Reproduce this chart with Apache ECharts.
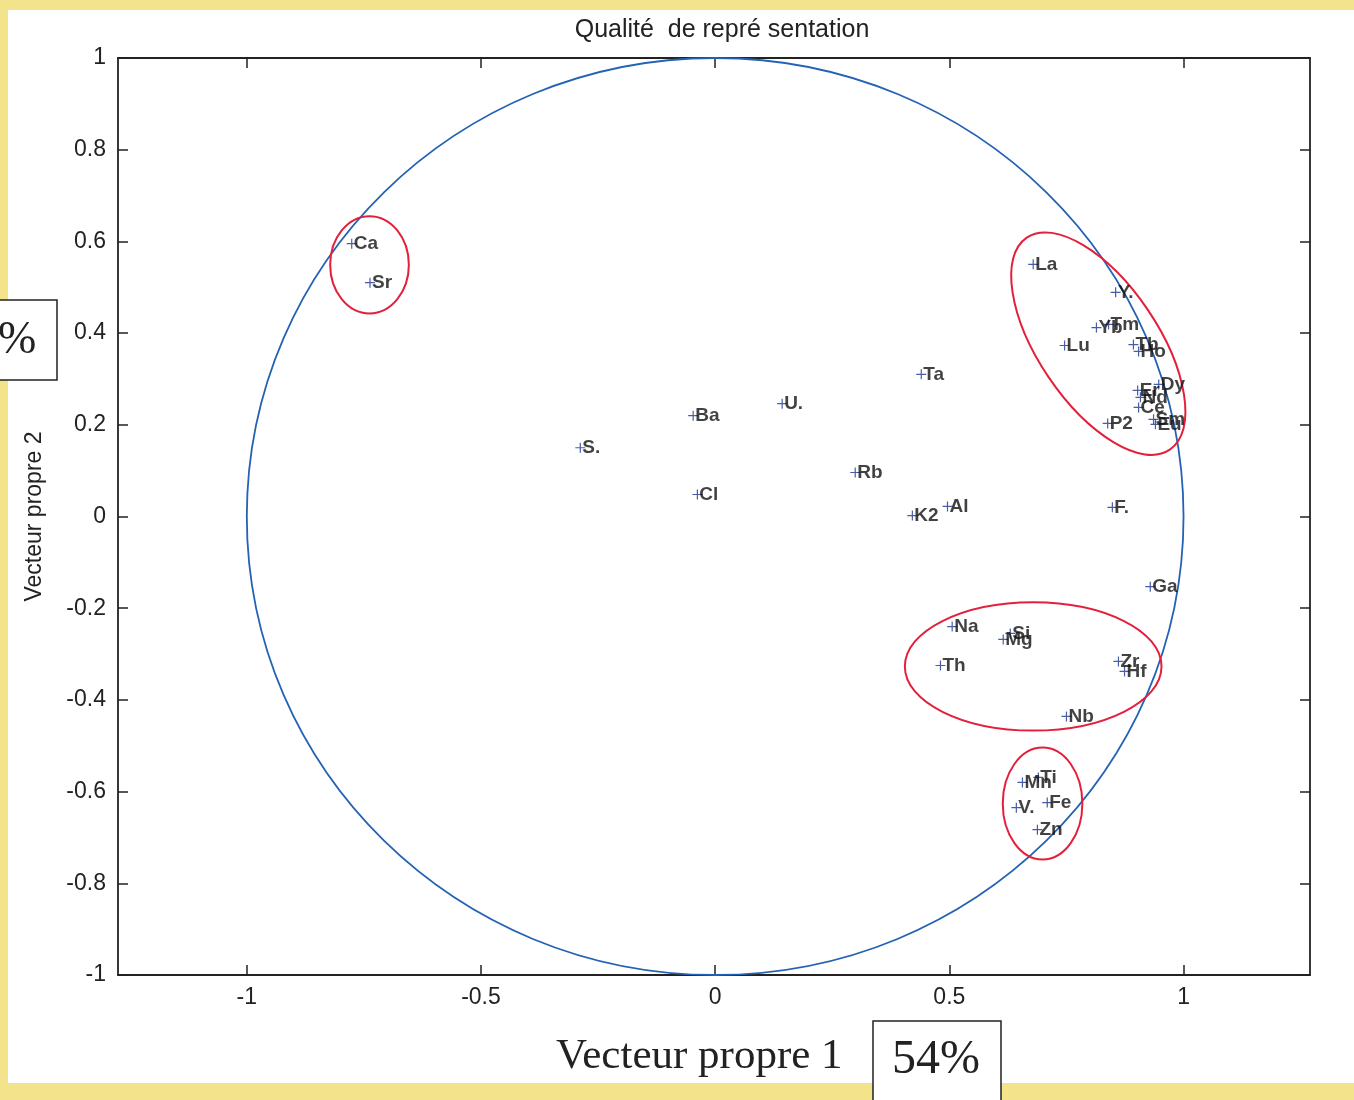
<!DOCTYPE html>
<html>
<head>
<meta charset="utf-8">
<title>Qualité de représentation</title>
<script src="https://cdn.jsdelivr.net/npm/echarts@6/dist/echarts.min.js"></script>
<style>
  html, body { margin: 0; padding: 0; background: #f3e48c; }
  #sheet { position: absolute; left: 8px; top: 10px; width: 1346px; height: 1073px; background: #fff; }
  #chart { position: absolute; left: 0; top: 0; width: 1354px; height: 1100px; }
</style>
</head>
<body>
<div id="sheet"></div>
<div id="chart"></div>
<script>
// variables (noms) et coordonnées sur les deux premiers vecteurs propres
const varNames = ['Ca', 'Sr', 'La', 'Y.', 'Yb', 'Tm', 'Lu', 'Tb', 'Ho', 'Dy', 'Er', 'Nd', 'Ce', 'Sm', 'Eu', 'P2',
  'Ta', 'U.', 'Ba', 'S.', 'Cl', 'Rb', 'K2', 'Al', 'F.', 'Ga', 'Na', 'Si', 'Mg', 'Th', 'Zr', 'Hf', 'Nb',
  'Mn', 'Ti', 'V.', 'Fe', 'Zn']
const vp1 = [-0.776, -0.737, 0.679, 0.855, 0.814, 0.840, 0.746, 0.893, 0.904, 0.947, 0.902, 0.908, 0.904, 0.936, 0.940, 0.838,
  0.440, 0.143, -0.047, -0.288, -0.038, 0.299, 0.421, 0.496, 0.848, 0.929, 0.506, 0.630, 0.615, 0.481, 0.861, 0.874, 0.750,
  0.656, 0.690, 0.643, 0.709, 0.688]
const vp2 = [0.595, 0.510, 0.550, 0.489, 0.412, 0.419, 0.373, 0.375, 0.360, 0.288, 0.275, 0.260, 0.238, 0.212, 0.201, 0.203,
  0.310, 0.246, 0.220, 0.150, 0.048, 0.096, 0.002, 0.022, 0.020, -0.153, -0.240, -0.255, -0.268, -0.325, -0.316, -0.338, -0.436,
  -0.580, -0.569, -0.635, -0.624, -0.683]

// cercle des corrélations (centre, rayon)
const circleData = [[0, 0, 1, 1]]
// groupes entourés en rouge : centre x, centre y, demi-axe x, demi-axe y, rotation (degrés)
const groupEllipses = [
  [-0.738, 0.549, 0.084, 0.106, 0],
  [0.818, 0.377, 0.128, 0.279, 34],
  [0.679, -0.327, 0.274, 0.140, 0],
  [0.699, -0.626, 0.085, 0.122, 0]
]

const xTicks = [-1, -0.5, 0, 0.5, 1]

const chart = echarts.init(document.getElementById('chart'))

const ellipseRender = (color, width) => (params, api) => {
  const c = api.coord([api.value(0), api.value(1)])
  const s = api.size([api.value(2), api.value(3)])
  return {
    type: 'ellipse',
    x: c[0],
    y: c[1],
    rotation: (api.value(4) || 0) * Math.PI / 180,
    shape: { cx: 0, cy: 0, rx: s[0], ry: s[1] },
    style: { fill: null, stroke: color, lineWidth: width }
  }
}

const axisLine = { onZero: false, lineStyle: { color: '#222', width: 1.8 } }
const tickStyle = { inside: true, length: 10, lineStyle: { color: '#222', width: 1.5 } }
const labelFont = { color: '#222', fontSize: 23, fontFamily: 'Liberation Sans, Arial, sans-serif' }

const option = {
  backgroundColor: 'transparent',
  animation: false,
  title: {
    text: 'Qualité  de repré sentation',
    left: 717,
    top: 13,
    textAlign: 'center',
    textStyle: { color: '#222', fontSize: 25, fontWeight: 'normal', fontFamily: 'Liberation Sans, Arial, sans-serif' }
  },
  grid: { left: 118, right: 44, top: 58, bottom: 125 },
  xAxis: [{
    type: 'value', min: -1.275, max: 1.27, position: 'bottom',
    axisLine: axisLine,
    axisTick: Object.assign({ customValues: xTicks }, tickStyle),
    axisLabel: Object.assign({ customValues: xTicks, margin: 11 }, labelFont),
    splitLine: { show: false }
  }, {
    type: 'value', min: -1.275, max: 1.27, position: 'top',
    axisLine: axisLine,
    axisTick: Object.assign({ customValues: xTicks }, tickStyle),
    axisLabel: { show: false },
    splitLine: { show: false }
  }],
  yAxis: [{
    type: 'value', min: -1, max: 1, interval: 0.2, position: 'left',
    name: 'Vecteur propre 2', nameLocation: 'middle', nameGap: 72,
    nameTextStyle: { color: '#222', fontSize: 23, fontFamily: 'Liberation Sans, Arial, sans-serif' },
    axisLine: axisLine,
    axisTick: tickStyle,
    axisLabel: Object.assign({ margin: 12 }, labelFont),
    splitLine: { show: false }
  }, {
    type: 'value', min: -1, max: 1, interval: 0.2, position: 'right',
    axisLine: axisLine,
    axisTick: tickStyle,
    axisLabel: { show: false },
    splitLine: { show: false }
  }],
  graphic: [
    {
      type: 'text', left: 556, top: 1035,
      style: { text: 'Vecteur propre 1', fill: '#222', font: '43px "Liberation Serif", "Times New Roman", serif' }
    },
    {
      type: 'rect', shape: { x: 873, y: 1021, width: 128, height: 84 },
      style: { fill: '#fff', stroke: '#222', lineWidth: 1.5 }
    },
    {
      type: 'text', left: 892, top: 1036,
      style: { text: '54%', fill: '#222', font: '48px "Liberation Serif", "Times New Roman", serif' }
    },
    {
      type: 'rect', shape: { x: -5, y: 300, width: 62, height: 80 },
      style: { fill: '#fff', stroke: '#222', lineWidth: 1.5 }
    },
    {
      type: 'text', left: -2, top: 318,
      style: { text: '%', fill: '#222', font: '46px "Liberation Serif", "Times New Roman", serif' }
    }
  ],
  series: [
    {
      type: 'custom',
      name: 'cercle',
      renderItem: ellipseRender('#2462b4', 1.8),
      data: circleData,
      encode: { x: 0, y: 1 },
      silent: true,
      z: 1
    },
    {
      type: 'custom',
      name: 'groupes',
      renderItem: ellipseRender('#e3203c', 2),
      data: groupEllipses,
      encode: { x: 0, y: 1 },
      silent: true,
      z: 3
    },
    {
      type: 'scatter',
      name: 'variables',
      symbol: 'path://M-1,-0.12H1V0.12H-1Z M-0.12,-1H0.12V1H-0.12Z',
      symbolSize: 10,
      itemStyle: { color: '#1a3590' },
      label: {
        show: true,
        formatter: '{b}',
        position: 'right',
        distance: -3,
        color: '#111',
        fontSize: 19,
        fontWeight: 'bold',
        fontFamily: 'Liberation Sans, Arial, sans-serif'
      },
      data: varNames.map((n, i) => ({ name: n, value: [vp1[i], vp2[i]] })),
      z: 4
    }
  ]
}

chart.setOption(option)
</script>
</body>
</html>
